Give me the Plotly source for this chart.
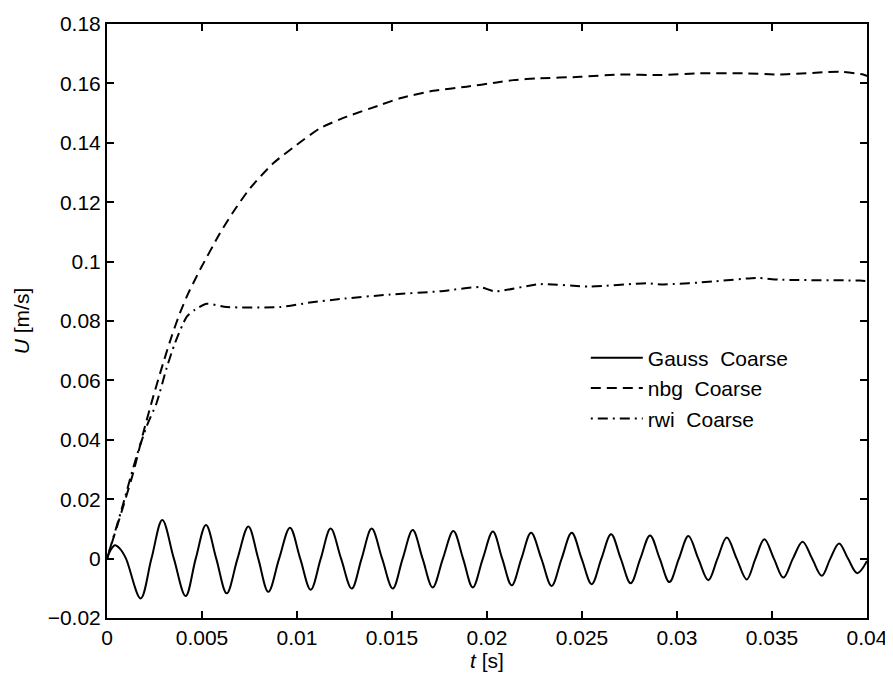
import plotly.graph_objects as go

# ---- data ----
gauss_t = [0, 0.0002, 0.00042, 0.0007, 0.001, 0.00177, 0.00234, 0.00291, 0.00352, 0.00414,
           0.00467, 0.00521, 0.00575, 0.0063, 0.00687, 0.00744, 0.00796, 0.00849, 0.00906,
           0.00963, 0.01017, 0.01072, 0.01125, 0.01177, 0.01232, 0.01288, 0.0134, 0.01393,
           0.01448, 0.01504, 0.01556, 0.01609, 0.01661, 0.01714, 0.01768, 0.01823, 0.01874,
           0.01925, 0.01978, 0.02031, 0.0208, 0.0213, 0.02181, 0.02232, 0.02286, 0.0234,
           0.02393, 0.02446, 0.02498, 0.02551, 0.02602, 0.02653, 0.02704, 0.02756, 0.02807,
           0.02858, 0.02909, 0.0296, 0.0301, 0.0306, 0.03112, 0.03165, 0.03213, 0.03262,
           0.03314, 0.03367, 0.03413, 0.0346, 0.0351, 0.0356, 0.0361, 0.03661, 0.03711,
           0.03762, 0.03807, 0.03853, 0.039, 0.03949, 0.04]
gauss_u = [0, 0.003, 0.0045, 0.0032, 0.0, -0.0134, 0.0, 0.013, 0.0, -0.0126,
           0.0, 0.0113, 0.0, -0.0117, 0.0, 0.0108, 0.0, -0.0112, 0.0,
           0.0104, 0.0, -0.0105, 0.0, 0.0101, 0.0, -0.0101, 0.0, 0.0101,
           0.0, -0.0101, 0.0, 0.0096, 0.0, -0.0097, 0.0, 0.0093, 0.0,
           -0.0097, 0.0, 0.0091, 0.0, -0.009, 0.0, 0.0087, 0.0, -0.0092,
           0.0, 0.0087, 0.0, -0.0086, 0.0, 0.0082, 0.0, -0.0083, 0.0,
           0.0078, 0.0, -0.0079, 0.0, 0.0076, 0.0, -0.0073, 0.0, 0.0071,
           0.0, -0.007, 0.0, 0.0065, 0.0, -0.0064, 0.0, 0.0057, 0.0,
           -0.0058, 0.0, 0.0051, 0.0, -0.0049, -0.0008]

nbg_t = [0, 0.00086, 0.00138, 0.00191, 0.00244, 0.00296, 0.0034, 0.00384, 0.00428, 0.00463,
         0.00489, 0.00595, 0.00665, 0.00753, 0.00875, 0.00998, 0.01121, 0.01262, 0.01437,
         0.01542, 0.01717, 0.01893, 0.02051, 0.02138, 0.0227, 0.0249, 0.027, 0.0291, 0.0312,
         0.0335, 0.0354, 0.03858, 0.0398, 0.04]
nbg_u = [0, 0.0177, 0.0289, 0.0424, 0.0547, 0.0659, 0.0748, 0.0827, 0.0894, 0.0939,
         0.0972, 0.1096, 0.1168, 0.1247, 0.1331, 0.1393, 0.1449, 0.1488, 0.1527,
         0.155, 0.1575, 0.1589, 0.1603, 0.1611, 0.1617, 0.1622, 0.163, 0.1628, 0.1634,
         0.1634, 0.163, 0.1639, 0.163, 0.1625]

rwi_t = [0, 0.00077, 0.00156, 0.00209, 0.00261, 0.00314, 0.00358, 0.0042, 0.00463, 0.00525,
         0.0063, 0.0091, 0.01068, 0.01226, 0.0149, 0.01753, 0.01963, 0.02042, 0.02279,
         0.02542, 0.0284, 0.02928, 0.03191, 0.0342, 0.03542, 0.03963, 0.04]
rwi_u = [0, 0.0166, 0.0345, 0.0446, 0.0524, 0.0642, 0.0726, 0.0815, 0.0838, 0.0858,
         0.0847, 0.0847, 0.0862, 0.0874, 0.0889, 0.09, 0.0914, 0.09, 0.0924,
         0.0916, 0.0927, 0.0923, 0.0933, 0.0945, 0.0939, 0.0936, 0.0934]

x_ticks = [0, 0.005, 0.01, 0.015, 0.02, 0.025, 0.03, 0.035, 0.04]
x_labels = ["0", "0.005", "0.01", "0.015", "0.02", "0.025", "0.03", "0.035", "0.04"]
y_ticks = [-0.02, 0, 0.02, 0.04, 0.06, 0.08, 0.1, 0.12, 0.14, 0.16, 0.18]
y_labels = ["\u22120.02", "0", "0.02", "0.04", "0.06", "0.08", "0.1", "0.12", "0.14", "0.16", "0.18"]

names = ["Gauss\u00a0 Coarse", "nbg\u00a0 Coarse", "rwi\u00a0 Coarse"]

fig = go.Figure()
fig.add_trace(go.Scatter(x=gauss_t, y=gauss_u, mode="lines", name=names[0],
                         line=dict(color="black", width=2, shape="spline", smoothing=1.0)))
fig.add_trace(go.Scatter(x=nbg_t, y=nbg_u, mode="lines", name=names[1],
                         line=dict(color="black", width=2, dash="10px,6px", shape="spline", smoothing=0.6)))
fig.add_trace(go.Scatter(x=rwi_t, y=rwi_u, mode="lines", name=names[2],
                         line=dict(color="black", width=2, dash="2px,5px,10px,5px", shape="spline", smoothing=0.6)))

FAM = "Liberation Sans, Arial, Helvetica, sans-serif"
font = dict(family=FAM, size=21, color="black")
axis_common = dict(showgrid=False, zeroline=False, showline=True, linecolor="black", linewidth=2,
                   mirror="ticks", ticks="inside", ticklen=7, tickwidth=1.5, tickcolor="black",
                   tickfont=font, automargin=False)

# page body has an 8px margin, so the figure is 8px smaller than the window
fig.update_layout(
    width=885, height=672,
    margin=dict(l=99, r=26, t=16, b=62),
    paper_bgcolor="white", plot_bgcolor="white",
    font=font,
    showlegend=True,
    legend=dict(x=0.63, y=0.472, xanchor="left", yanchor="top", bgcolor="rgba(0,0,0,0)",
                borderwidth=0, font=dict(family=FAM, size=21, color="black"),
                itemwidth=52, tracegroupgap=0),
    xaxis=dict(range=[0, 0.04], tickvals=x_ticks, ticktext=x_labels,
               title=dict(text="<i>t</i> [s]", standoff=0, font=font), **axis_common),
    yaxis=dict(range=[-0.02, 0.18], tickvals=y_ticks, ticktext=y_labels,
               title=dict(text="<i>U</i> [m/s]", standoff=12, font=font), **axis_common),
)

fig.write_html("out.html")
